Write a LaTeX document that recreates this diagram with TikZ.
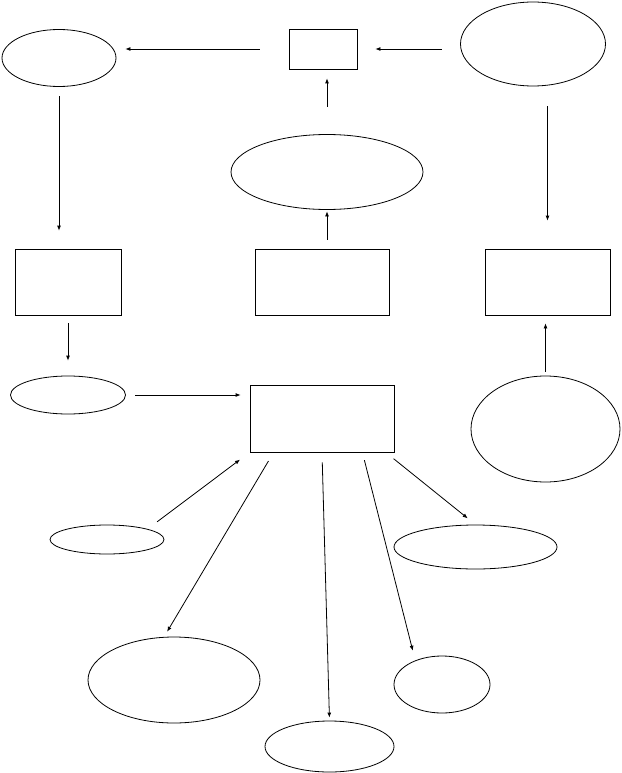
\documentclass[tikz,border=0pt]{standalone}
\usepackage{amsmath}
\usepackage{tikz}
\usetikzlibrary{shapes.geometric,arrows.meta}

\begin{document}
\begin{tikzpicture}[x=1pt, y=-1pt, line width=0.8pt,
	box/.style = {draw, rectangle, inner sep=0pt},
	oval/.style = {draw, ellipse, inner sep=0pt},
	arr/.style = {-{Latex[length=5pt, width=4pt]}}]
	\useasboundingbox (0,0) rectangle (621,773);
	\node[oval, minimum width=114, minimum height=57] (1) at (59,58) {};
	\node[box, minimum width=68, minimum height=40] (2) at (323,49) {};
	\node[oval, minimum width=145, minimum height=84] (3) at (533,44) {};
	\node[oval, minimum width=192, minimum height=75] (4) at (327,172) {};
	\node[box, minimum width=106, minimum height=66] (5) at (68,282) {};
	\node[box, minimum width=134, minimum height=66] (6) at (322,282) {};
	\node[box, minimum width=125, minimum height=66] (7) at (547.5,282) {};
	\node[oval, minimum width=115, minimum height=38] (8) at (68,395) {};
	\node[box, minimum width=144, minimum height=67] (9) at (322,418.5) {};
	\node[oval, minimum width=149, minimum height=106] (10) at (545.5,429) {};
	\node[oval, minimum width=114, minimum height=29] (11) at (107,539.5) {};
	\node[oval, minimum width=172, minimum height=86] (12) at (174,680) {};
	\node[oval, minimum width=129, minimum height=51] (13) at (329.5,746.5) {};
	\node[oval, minimum width=96, minimum height=57] (14) at (442,684.5) {};
	\node[oval, minimum width=163, minimum height=44] (15) at (475.5,547) {};
	\draw[arr, shorten <=29pt, shorten >=9pt] (2.west) -- (2.west -| 1.east);
	\draw[arr, shorten <=18.5pt, shorten >=18pt] (3.west |- 2.east) -- (2.east);
	\draw[arr, shorten <=27.5pt, shorten >=9pt] (4.north) -- (4.north |- 2.south);
	\draw[arr, shorten <=9.5pt, shorten >=18pt] (1.south) -- (1.south |- 5.north);
	\draw[arr, shorten <=9pt, shorten >=1.5pt] (4.south |- 6.north) -- (4.south);
	\draw[arr, shorten <=20pt, shorten >=28pt] (7.north |- 3.south) -- (7.north);
	\draw[arr, shorten <=8pt, shorten >=15pt] (5.south) -- (8.north);
	\draw[arr, shorten <=9.5pt, shorten >=9pt] (8.east) -- (8.east -| 9.west);
	\draw[arr, shorten <=4pt, shorten >=8pt] (10.north) -- (10.north |- 7.south);
	\draw[arr, shorten <=12pt, shorten >=12pt] (11.north east) -- (9.south west);
	\draw[arr, shorten <=10pt, shorten >=6pt] (9.-145) -- (12.103);
	\draw[arr, shorten <=10pt, shorten >=3pt] (9.south) -- (13.north);
	\draw[arr, shorten <=8pt, shorten >=10pt] (9.-40) -- (14.138);
	\draw[arr, shorten <=10pt, shorten >=10pt] (9.-28) -- (15.north);
\end{tikzpicture}
\end{document}
